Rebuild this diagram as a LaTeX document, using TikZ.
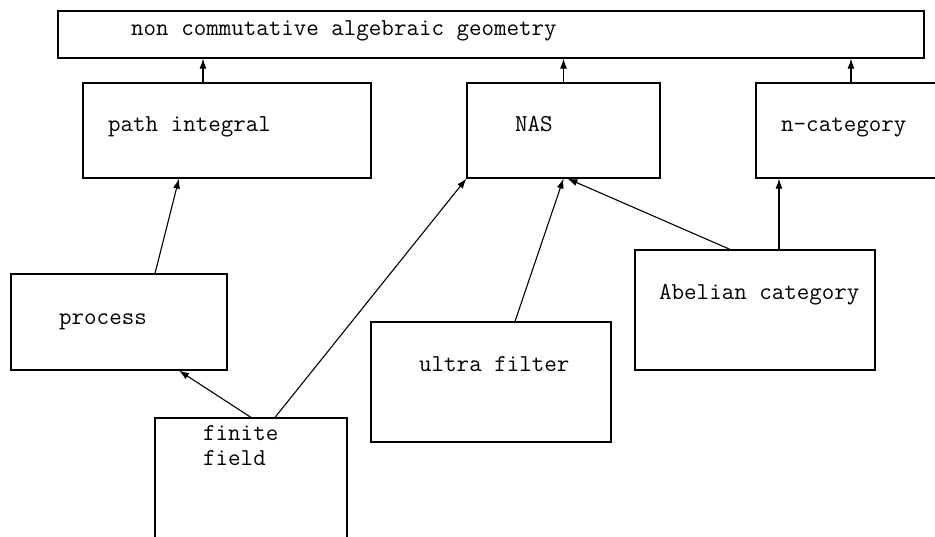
\documentclass[tikz,border=0pt]{standalone}
\usepackage{fontspec}
\usetikzlibrary{arrows.meta}
\begin{document}
\begin{tikzpicture}[x=1pt,y=-1pt,
  box/.style={draw,line width=1.2pt,inner sep=0pt,minimum width=#1},
  txt/.style={anchor=base west,inner sep=0pt,font=\ttfamily\fontsize{24.3}{24.3}\selectfont,align=left},
  arr/.style={line width=1.1pt,-{Latex[length=10pt,width=7pt]}}]
\useasboundingbox (0,0) rectangle (935,536);
% boxes
\node[box=866pt,minimum height=47pt] (top) at (491,34.5) {};
\node[box=288pt,minimum height=95pt] (pi) at (227,130.5) {};
\node[box=193pt,minimum height=95pt] (nas) at (563.5,130.5) {};
\node[box=194pt,minimum height=95pt] (ncat) at (853,130.5) {};
\node[box=216pt,minimum height=96pt] (proc) at (119,322) {};
\node[box=240pt,minimum height=120pt] (uf) at (491,382) {};
\node[box=240pt,minimum height=120pt] (ab) at (755,310) {};
\node[box=192pt,minimum height=144pt] (ff) at (251,490) {};
% texts
\node[txt] (ttop) at (131,35) {non commutative algebraic geometry};
\node[txt] (tpi) at (108,131) {path integral};
\node[txt] (tnas) at (515,131) {NAS};
\node[txt] (tncat) at (781,131) {n-category};
\node[txt] (tproc) at (59,324) {process};
\node[txt] (tuf) at (419,371) {ultra filter};
\node[txt] (tab) at (659,299) {Abelian category};
\node[txt] (tff) at (203,465) {finite\\field};
% arrows
\draw[arr] ([xshift=-24pt]pi.north) -- ([xshift=-24pt]pi.north |- top.south);
\draw[arr] (nas.north) -- (nas.north |- top.south);
\draw[arr] ([xshift=-2pt]ncat.north) -- ([xshift=-2pt]ncat.north |- top.south);
\draw[arr] ([xshift=36pt]proc.north) -- ([xshift=-48pt]pi.south);
\draw[arr] (ff.north) -- ([xshift=60pt]proc.south);
\draw[arr] ([xshift=24pt]ff.north) -- (nas.south west);
\draw[arr] ([xshift=24pt]uf.north) -- (nas.south);
\draw[arr] ([xshift=-25pt]ab.north) -- ([xshift=4pt]nas.south);
\draw[arr] ([xshift=24pt]ab.north) -- ([xshift=24pt]ab.north |- ncat.south);
\end{tikzpicture}
\end{document}
